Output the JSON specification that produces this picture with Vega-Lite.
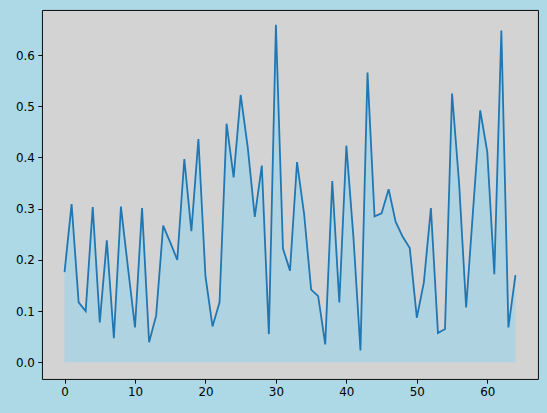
{
  "$schema": "https://vega.github.io/schema/vega-lite/v6.json",
  "width": 496,
  "height": 369,
  "autosize": {"type": "none"},
  "padding": {"left": 42, "top": 10, "right": 9, "bottom": 34},
  "background": "#add8e6",
  "config": {
    "view": {"fill": "#d3d3d3", "stroke": "#000000", "strokeWidth": 0.95},
    "axis": {
      "grid": false,
      "domain": false,
      "tickColor": "#000000",
      "tickSize": 4.2,
      "tickWidth": 0.95,
      "labelColor": "#000000",
      "labelFont": "DejaVu Sans",
      "labelFontSize": 11.9,
      "labelPadding": 3.5,
      "title": null
    }
  },
  "data": {
    "values": [
      {"x": 0, "y": 0.176}, {"x": 1, "y": 0.309}, {"x": 2, "y": 0.117}, {"x": 3, "y": 0.100},
      {"x": 4, "y": 0.303}, {"x": 5, "y": 0.078}, {"x": 6, "y": 0.238}, {"x": 7, "y": 0.047},
      {"x": 8, "y": 0.304}, {"x": 9, "y": 0.185}, {"x": 10, "y": 0.068}, {"x": 11, "y": 0.301},
      {"x": 12, "y": 0.039}, {"x": 13, "y": 0.091}, {"x": 14, "y": 0.267}, {"x": 15, "y": 0.234},
      {"x": 16, "y": 0.200}, {"x": 17, "y": 0.397}, {"x": 18, "y": 0.256}, {"x": 19, "y": 0.436},
      {"x": 20, "y": 0.168}, {"x": 21, "y": 0.070}, {"x": 22, "y": 0.117}, {"x": 23, "y": 0.466},
      {"x": 24, "y": 0.361}, {"x": 25, "y": 0.522}, {"x": 26, "y": 0.420}, {"x": 27, "y": 0.284},
      {"x": 28, "y": 0.384}, {"x": 29, "y": 0.055}, {"x": 30, "y": 0.659}, {"x": 31, "y": 0.222},
      {"x": 32, "y": 0.179}, {"x": 33, "y": 0.391}, {"x": 34, "y": 0.290}, {"x": 35, "y": 0.142},
      {"x": 36, "y": 0.129}, {"x": 37, "y": 0.035}, {"x": 38, "y": 0.354}, {"x": 39, "y": 0.117},
      {"x": 40, "y": 0.423}, {"x": 41, "y": 0.245}, {"x": 42, "y": 0.023}, {"x": 43, "y": 0.566},
      {"x": 44, "y": 0.285}, {"x": 45, "y": 0.291}, {"x": 46, "y": 0.338}, {"x": 47, "y": 0.274},
      {"x": 48, "y": 0.245}, {"x": 49, "y": 0.223}, {"x": 50, "y": 0.087}, {"x": 51, "y": 0.156},
      {"x": 52, "y": 0.301}, {"x": 53, "y": 0.057}, {"x": 54, "y": 0.065}, {"x": 55, "y": 0.525},
      {"x": 56, "y": 0.350}, {"x": 57, "y": 0.107}, {"x": 58, "y": 0.300}, {"x": 59, "y": 0.492},
      {"x": 60, "y": 0.411}, {"x": 61, "y": 0.172}, {"x": 62, "y": 0.648}, {"x": 63, "y": 0.068},
      {"x": 64, "y": 0.170}
    ]
  },
  "encoding": {
    "x": {
      "field": "x", "type": "quantitative",
      "scale": {"domain": [-3.2, 67.2], "nice": false, "zero": false},
      "axis": {"values": [0, 10, 20, 30, 40, 50, 60], "format": "d"}
    },
    "y": {
      "field": "y", "type": "quantitative",
      "scale": {"domain": [-0.0327, 0.688], "nice": false, "zero": false},
      "axis": {"values": [0, 0.1, 0.2, 0.3, 0.4, 0.5, 0.6], "format": ".1f"}
    }
  },
  "layer": [
    {
      "mark": {"type": "area", "color": "#a9d2e3", "opacity": 0.85, "clip": true},
      "encoding": {"y2": {"datum": 0}}
    },
    {
      "mark": {"type": "line", "color": "#1f77b4", "strokeWidth": 1.8, "clip": true}
    }
  ]
}
